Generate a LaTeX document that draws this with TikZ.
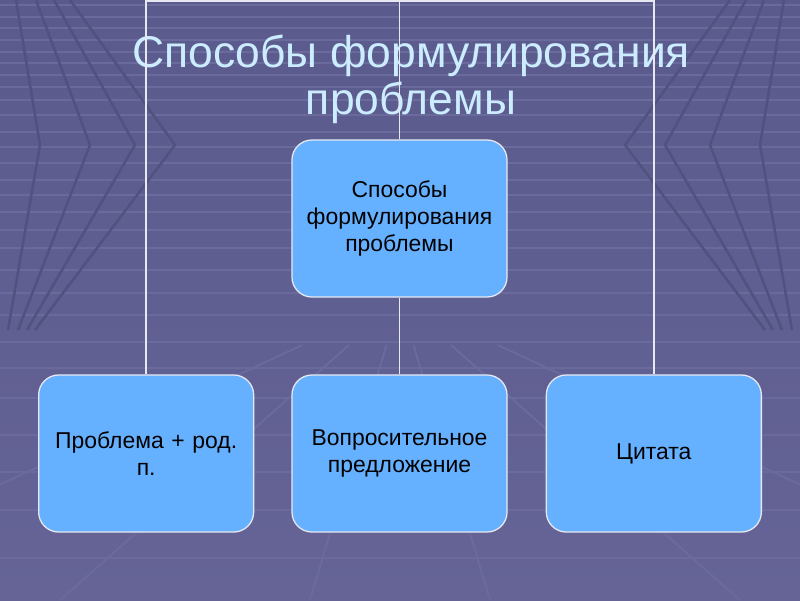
\documentclass[tikz,border=0pt]{standalone}
\usepackage{fontspec}
\setmainfont{Liberation Sans}
\usetikzlibrary{positioning,calc}

\definecolor{slidetop}{RGB}{90,90,140}
\definecolor{slidebot}{RGB}{102,100,150}
\definecolor{stripe}{RGB}{106,106,156}
\definecolor{darkline}{RGB}{82,82,128}
\definecolor{boxblue}{RGB}{102,177,255}
\definecolor{titleblue}{RGB}{204,236,255}
\definecolor{linkwhite}{RGB}{232,232,242}

\tikzset{
  box/.style={draw=linkwhite, line width=0.9pt, fill=boxblue, rounded corners=0.5cm,
    minimum width=5.375cm, minimum height=3.925cm, text width=5.1cm, align=center,
    font=\fontsize{16.3}{19.5}\selectfont},
  link/.style={draw=linkwhite, line width=1.4pt},
  heading/.style={text=titleblue, align=center, font=\fontsize{31.6}{33.5}\selectfont}
}

\begin{document}
\begin{tikzpicture}[x=0.025cm, y=-0.025cm]
    % background
    \shade[top color=slidetop, bottom color=slidebot] (0,0) rectangle (800,600);
    \useasboundingbox (0,0) rectangle (800,600);
    \foreach \y in {5,17,28,40,52,63,75,87,100,115,132,147,163,180,195,212,230,248,270,293,315,342,368,398,435,472,510,558}
        \draw[stripe, line width=1.4pt] (0,\y) -- (800,\y);
    \foreach \a in {40,90,135,175} {
        \draw[darkline, line width=1.8pt] ({\a-\a*0.6},0) -- (\a,145) -- ({\a-\a*0.8},330);
        \draw[darkline, line width=1.8pt] ({800-\a+\a*0.6},0) -- (800-\a,145) -- ({800-\a+\a*0.8},330);
    }
    \foreach \x in {-250,60,310,490,740,1050}
        \draw[stripe, line width=1.4pt] ($(400,300)!0.15!(\x,600)$) -- (\x,600);

    % title
    \node[heading] (title) at (411,79) {Способы формулирования\\проблемы};

    % boxes
    \node[box] (top) at (399.5,218.5) {Способы\\формулирования\\проблемы};
    \node[box] (mid) at (399.5,453.5) {Вопросительное\\предложение};
    \node[box, left=0.925cm of mid] (left) {Проблема + род.\\п.};
    \node[box, right=0.95cm of mid] (right) {Цитата};

    % connectors
    \coordinate (bus) at (400,1);
    \draw[link] (top.north) -- (top.north |- bus);
    \draw[link] (left.north) -- (left.north |- bus) -- (right.north |- bus) -- (right.north);
    \draw[link] (top.south) -- (mid.north);
\end{tikzpicture}
\end{document}
